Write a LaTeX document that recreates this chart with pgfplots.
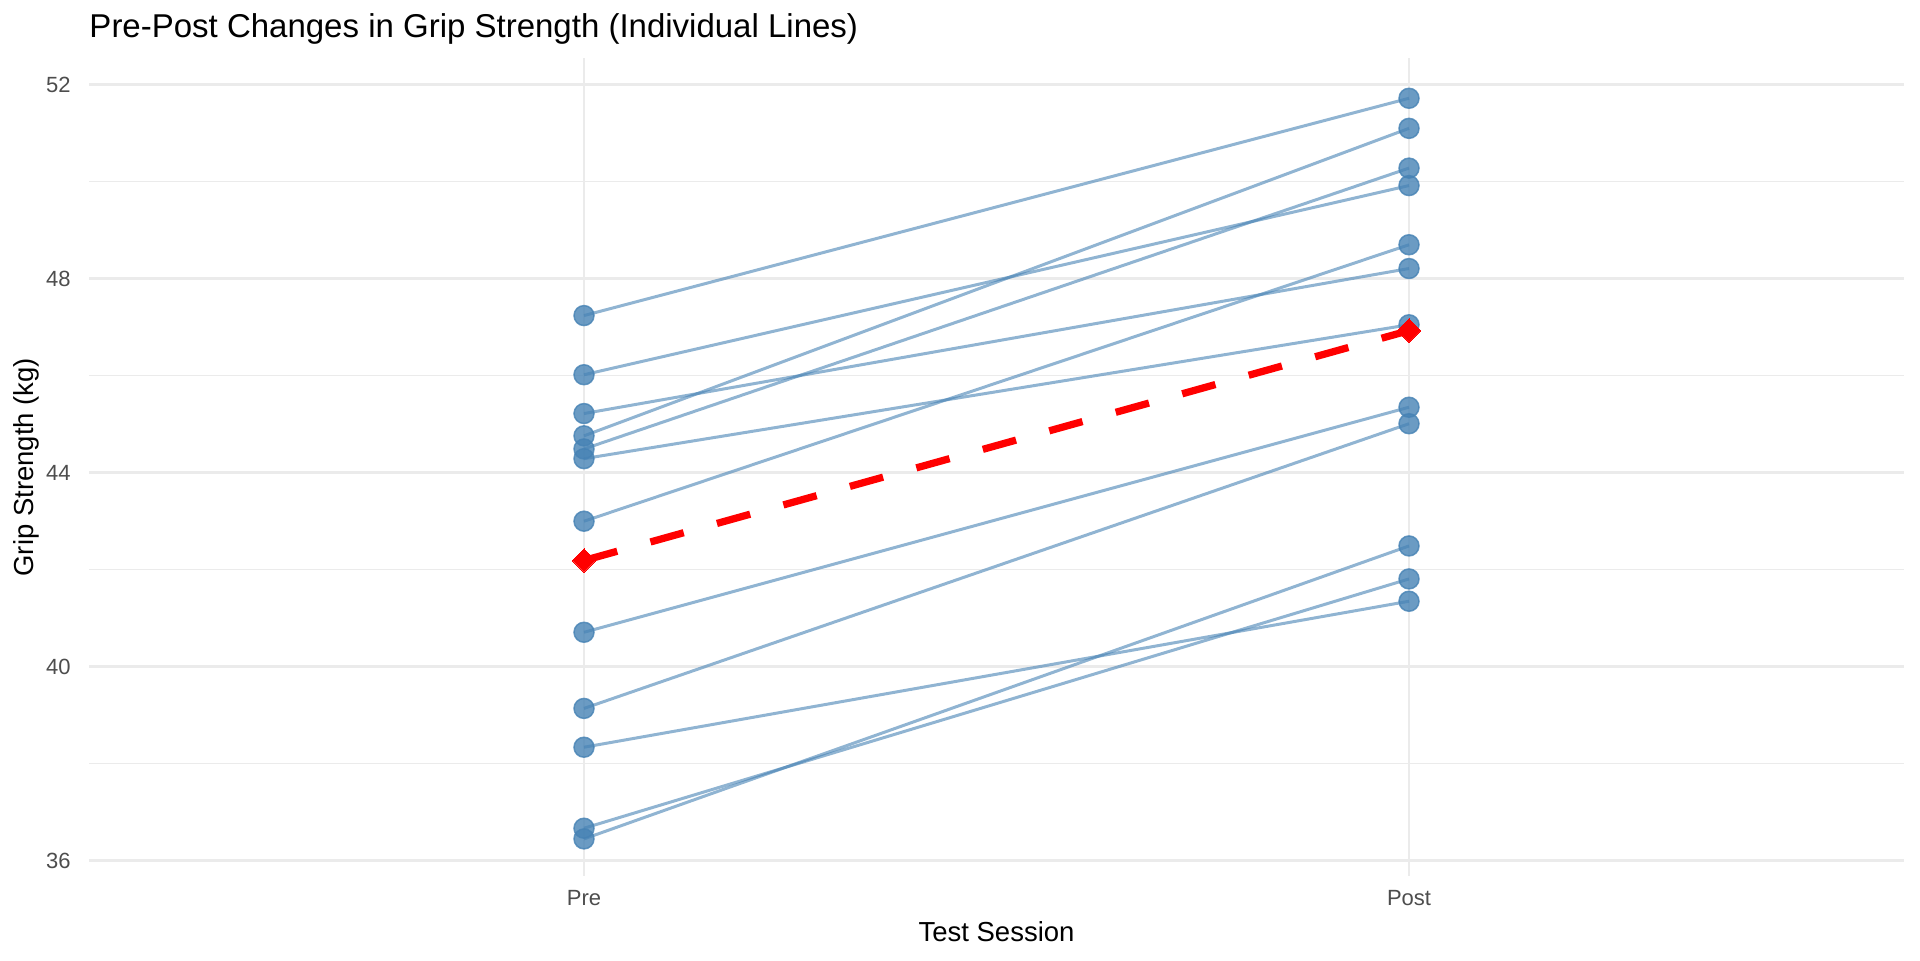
\documentclass[border=0pt]{standalone}
\usepackage{fontspec}
\setmainfont{Liberation Sans}
\usepackage{pgfplots}
\pgfplotsset{compat=1.18}

\definecolor{steel}{RGB}{70,130,180}
\definecolor{gridc}{RGB}{235,235,235}
\definecolor{tickc}{RGB}{77,77,77}

\begin{document}
\begin{tikzpicture}
\useasboundingbox (0,0) rectangle (768pt,384pt);
\begin{axis}[
    at={(35.6pt,33.7pt)}, anchor=south west,
    scale only axis, width=726pt, height=326.9pt,
    xmin=0.4, xmax=2.6, ymin=35.69, ymax=52.54,
    axis line style={draw=none}, tick style={draw=none},
    xtick={1,2}, xticklabels={Pre,Post},
    ytick={36,40,44,48,52}, minor ytick={38,42,46,50},
    xmajorgrids, ymajorgrids, yminorgrids,
    major grid style={gridc, line width=1.1pt},
    minor grid style={gridc, line width=0.6pt},
    /pgf/number format/assume math mode=true,
    yticklabel style={font=\fontsize{8.8}{10}\selectfont, color=tickc, anchor=east, inner sep=0pt, xshift=-7.2pt},
    xticklabel style={font=\fontsize{8.8}{10}\selectfont, color=tickc, anchor=north, inner sep=0pt, yshift=-5.7pt},
    title={Pre-Post Changes in Grip Strength (Individual Lines)},
    title style={at={(axis description cs:0,1)}, anchor=base west, inner sep=0pt, yshift=2.2pt, font=\fontsize{13.2}{15}\selectfont},
    xlabel={Test Session},
    xlabel style={at={(axis description cs:0.5,0)}, anchor=base, inner sep=0pt, yshift=-26.4pt, font=\fontsize{11}{13}\selectfont},
    ylabel={Grip Strength (kg)},
    ylabel style={at={(axis description cs:-0.0303,0.5)}, anchor=base, inner sep=0pt, font=\fontsize{11}{13}\selectfont},
]
% individual subjects, pre -> post
\addplot[steel, opacity=0.6, line width=1.2pt] coordinates {(1,47.24) (2,51.72)};
\addplot[steel, opacity=0.6, line width=1.2pt] coordinates {(1,46.02) (2,49.92)};
\addplot[steel, opacity=0.6, line width=1.2pt] coordinates {(1,45.22) (2,48.21)};
\addplot[steel, opacity=0.6, line width=1.2pt] coordinates {(1,44.76) (2,51.10)};
\addplot[steel, opacity=0.6, line width=1.2pt] coordinates {(1,44.49) (2,50.28)};
\addplot[steel, opacity=0.6, line width=1.2pt] coordinates {(1,44.29) (2,47.05)};
\addplot[steel, opacity=0.6, line width=1.2pt] coordinates {(1,43.00) (2,48.70)};
\addplot[steel, opacity=0.6, line width=1.2pt] coordinates {(1,40.71) (2,45.35)};
\addplot[steel, opacity=0.6, line width=1.2pt] coordinates {(1,39.14) (2,45.01)};
\addplot[steel, opacity=0.6, line width=1.2pt] coordinates {(1,38.34) (2,41.35)};
\addplot[steel, opacity=0.6, line width=1.2pt] coordinates {(1,36.67) (2,41.81)};
\addplot[steel, opacity=0.6, line width=1.2pt] coordinates {(1,36.45) (2,42.49)};

% points
\addplot[only marks, mark=*, mark size=4pt, mark options={fill=steel, draw=steel, line width=0.6pt, fill opacity=0.8, draw opacity=0.8}]
coordinates {
    (1,47.24) (1,46.02) (1,45.22) (1,44.76) (1,44.49) (1,44.29)
    (1,43.00) (1,40.71) (1,39.14) (1,38.34) (1,36.67) (1,36.45)
    (2,51.72) (2,49.92) (2,48.21) (2,51.10) (2,50.28) (2,47.05)
    (2,48.70) (2,45.35) (2,45.01) (2,41.35) (2,41.81) (2,42.49)
};

% group mean
\addplot[red, line width=2.9pt, dash pattern=on 13.8pt off 13.8pt,
    mark=square*, mark size=3.3pt, mark options={solid, rotate=45, fill=red, line width=0pt}]
coordinates {(1,42.19) (2,46.93)};
\end{axis}
\end{tikzpicture}
\end{document}
